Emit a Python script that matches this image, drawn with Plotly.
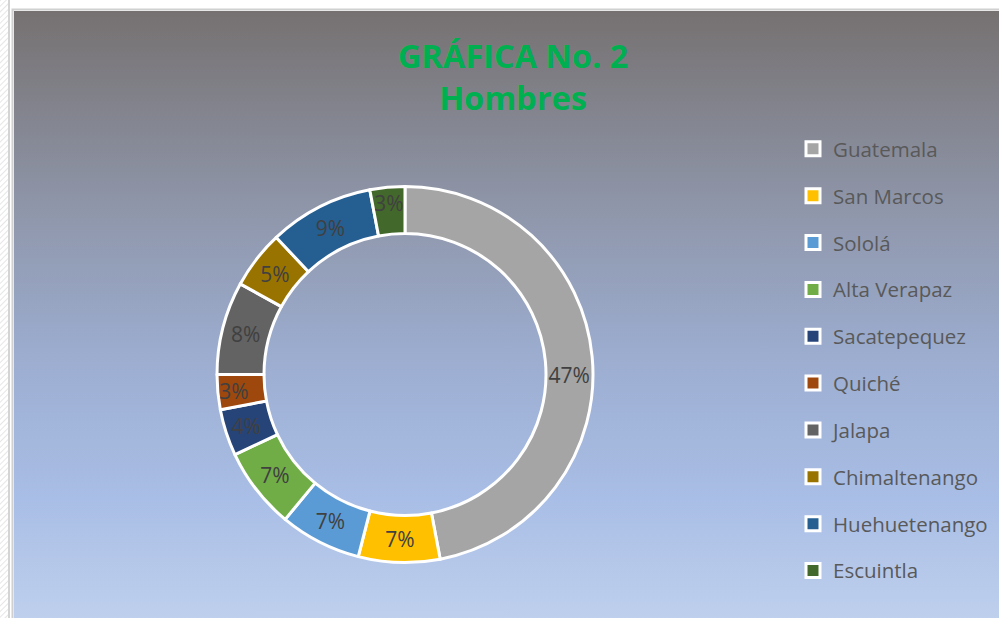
import base64
import plotly.graph_objects as go

# ---- data ----
departamentos = ["Guatemala", "San Marcos", "Sololá", "Alta Verapaz", "Sacatepequez",
                 "Quiché", "Jalapa", "Chimaltenango", "Huehuetenango", "Escuintla"]
porcentajes = [47, 7, 7, 7, 4, 3, 8, 5, 9, 3]
colores = ["#A5A5A5", "#FFC000", "#5B9BD5", "#70AD47", "#264478",
           "#9E480E", "#636363", "#997300", "#255E91", "#43682B"]
titulo = "GRÁFICA No. 2<br>Hombres"

W, H = 999, 618

# ---- background (spreadsheet frame + gradient chart area) ----
svg = f'''<svg xmlns="http://www.w3.org/2000/svg" width="{W}" height="{H}" viewBox="0 0 {W} {H}">
<defs>
<pattern id="hatch" width="4" height="4" patternUnits="userSpaceOnUse" patternTransform="rotate(45)">
<rect width="4" height="4" fill="#ffffff"/><line x1="0" y1="0" x2="0" y2="4" stroke="#e6e6e6" stroke-width="2"/>
</pattern>
<linearGradient id="g" x1="0" y1="0" x2="0" y2="1">
<stop offset="0" stop-color="#767171"/>
<stop offset="0.31" stop-color="#8E95A8"/>
<stop offset="0.56" stop-color="#9CADD0"/>
<stop offset="0.79" stop-color="#A9BEE6"/>
<stop offset="1" stop-color="#C0D1ED"/>
</linearGradient>
</defs>
<rect x="0" y="0" width="{W}" height="{H}" fill="#ffffff"/>
<rect x="0" y="0" width="8" height="{H}" fill="url(#hatch)"/>
<rect x="8" y="0" width="2" height="{H}" fill="#d4d4d4"/>
<rect x="12.5" y="9.5" width="{W}" height="{H}" fill="none" stroke="#d0d0d0" stroke-width="2"/>
<rect x="14" y="11" width="{W}" height="{H}" fill="url(#g)"/>
</svg>'''
src = "data:image/svg+xml;base64," + base64.b64encode(svg.encode("utf-8")).decode("ascii")

fig = go.Figure()

# donut
cx, cy, R = 405, 374.5, 188
fig.add_trace(go.Pie(
    labels=departamentos,
    values=porcentajes,
    marker=dict(colors=colores, line=dict(color="white", width=3)),
    hole=0.75,
    sort=False,
    direction="clockwise",
    rotation=0,
    textinfo="percent",
    textposition="inside",
    insidetextorientation="horizontal",
    textfont=dict(family="Open Sans", size=21, color="#404040"),
    showlegend=False,
    hoverinfo="label+percent",
    domain=dict(x=[(cx - R) / W, (cx + R) / W],
                y=[(H - cy - R) / H, (H - cy + R) / H]),
))

# legend entries
for name, col in zip(departamentos, colores):
    fig.add_trace(go.Scatter(
        x=[None], y=[None], mode="markers", name=name, legendgroup=name,
        marker=dict(symbol="square", size=14, color=col, line=dict(color="white", width=3)),
        showlegend=True, hoverinfo="skip",
    ))

fig.update_layout(
    width=W, height=H,
    margin=dict(l=0, r=0, t=0, b=0),
    paper_bgcolor="white",
    plot_bgcolor="rgba(0,0,0,0)",
    uniformtext=dict(minsize=21, mode="show"),
    images=[dict(source=src, xref="paper", yref="paper", x=0, y=1, sizex=1, sizey=1,
                 sizing="stretch", xanchor="left", yanchor="top", layer="below")],
    title=dict(text=titulo, x=513 / W, xanchor="center", y=1 - 67.5 / H, yanchor="middle",
               font=dict(family="Open Sans", size=32.5, color="#00B050", weight="bold")),
    xaxis=dict(visible=False),
    yaxis=dict(visible=False),
    legend=dict(x=793 / W, xanchor="left", y=1 - 129 / H, yanchor="top",
                bgcolor="rgba(0,0,0,0)", tracegroupgap=17.2,
                font=dict(family="Open Sans", size=20.5, color="#595959")),
)

fig.write_html("out.html")
